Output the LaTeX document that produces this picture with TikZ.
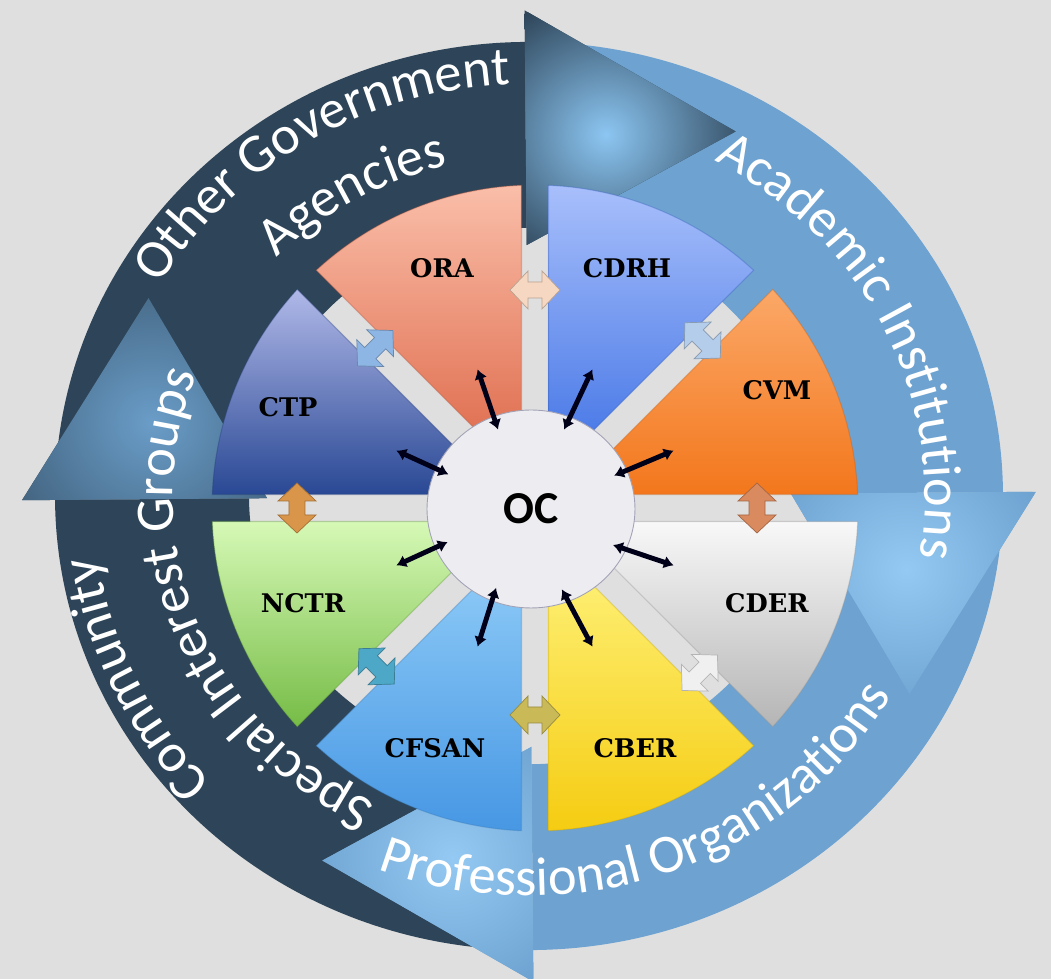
\documentclass[tikz,border=0pt]{standalone}
\usepackage{fontspec}
\setmainfont{Carlito}
\newfontfamily\unitfamily{DejaVu Serif}
\usetikzlibrary{arrows.meta,decorations.text,shapes.geometric}

\definecolor{pagegray}{HTML}{DFDFDF}
\definecolor{ringdark}{HTML}{2E4559}
\definecolor{ringlight}{HTML}{6EA3D1}
\definecolor{glowdark}{HTML}{8CC6F2}
\definecolor{glowsoft}{HTML}{6A9DC8}
\definecolor{glowlight}{HTML}{93C9F2}
\definecolor{ocfill}{HTML}{EDEDF1}
\definecolor{ocline}{HTML}{A2A2B6}
%% unit colours (top / bottom of the gradient)
\definecolor{cvmTop}{HTML}{FBA868}
\definecolor{cvmBot}{HTML}{F3771C}
\definecolor{cdrhTop}{HTML}{A8BFFB}
\definecolor{cdrhBot}{HTML}{3D70E4}
\definecolor{oraTop}{HTML}{FABEA9}
\definecolor{oraBot}{HTML}{DC6444}
\definecolor{ctpTop}{HTML}{B0B8E8}
\definecolor{ctpBot}{HTML}{294894}
\definecolor{nctrTop}{HTML}{D6F9B6}
\definecolor{nctrBot}{HTML}{76BC46}
\definecolor{cfsanTop}{HTML}{95D0F9}
\definecolor{cfsanBot}{HTML}{4797E4}
\definecolor{cberTop}{HTML}{FFF480}
\definecolor{cberBot}{HTML}{F5CC12}
\definecolor{cderTop}{HTML}{F8F8F8}
\definecolor{cderBot}{HTML}{B5B5B5}
%% small arrows between units
\definecolor{gapPeach}{HTML}{F6D8C2}
\definecolor{gapSky}{HTML}{B4CDEB}
\definecolor{gapRust}{HTML}{D98A5E}
\definecolor{gapWhite}{HTML}{F0F0F0}
\definecolor{gapOlive}{HTML}{C9B957}
\definecolor{gapTeal}{HTML}{4DA7C6}
\definecolor{gapTan}{HTML}{D9964B}
\definecolor{gapBlue}{HTML}{8DB6E5}

\newcommand{\ringfont}{\fontsize{31}{37}\selectfont}
\newcommand{\unitfont}{\unitfamily\bfseries\fontsize{14.6}{17}\selectfont}
\newcommand{\ocfont}{\bfseries\fontsize{26}{30}\selectfont}

\tikzset{
  unitlabel/.style={font=\unitfont, inner sep=0pt},
  ringlabel/.style={decorate, decoration={text along path, text align=center,
      text={|\ringfont\color{white}|#1}}},
  link/.style={line width=2.8pt, black!90!blue,
      {Latex[length=5.5pt,width=7.5pt]}-{Latex[length=5.5pt,width=7.5pt]}},
  gaparrow/.style={fill=#1, draw=#1!75!black, line width=0.4pt},
}

\begin{document}
\begin{tikzpicture}[x=0.02cm, y=0.02cm]

  \useasboundingbox (-535,-471) rectangle (516,508);
  \fill[pagegray] (-535,-471) rectangle (516,508);

  %% four curved arrows of the outer ring
  \begin{scope}[shift={(-6,12)}, yscale=0.958]
    \foreach \tl/\bk/\col in {265.5/180.5/ringdark, 175.5/90.5/ringdark,
                              85.5/0.5/ringlight, -4.5/-89.5/ringlight}
      \fill[\col] (\tl:474) arc[start angle=\tl, end angle=\bk, radius=474]
        -- (\bk:280) arc[start angle=\bk, end angle=\tl, radius=280] -- cycle;

    \foreach \bk/\col/\glow/\gr in {180.5/ringdark/glowsoft/240, 90.5/ringdark/glowdark/150,
                                    0.5/ringlight/glowlight/150, -89.5/ringlight/glowlight/150}
    {
      \fill[\col] (\bk:507) -- ({\bk-29}:433) -- (\bk:262) -- cycle;
      \begin{scope}
        \clip (\bk:507) -- ({\bk-29}:433) -- (\bk:262) -- cycle;
        \shade[inner color=\glow, outer color=\col] ({\bk-12}:385) circle[radius=\gr];
      \end{scope}
    }
  \end{scope}

  %% ring texts
  \begin{scope}[shift={(-6,12)}]
    \path[ringlabel=Other Government] (191.5:430 and 412)
      arc[start angle=191.5, end angle=51.5, x radius=430, y radius=412];
    \path[ringlabel=Agencies] (180:354 and 339)
      arc[start angle=180, end angle=60, x radius=354, y radius=339];
    \path[ringlabel=Academic Institutions] (95.9:396 and 379)
      arc[start angle=95.9, end angle=-44.1, x radius=396, y radius=379];
    \path[ringlabel=Professional Organizations] (224.8:418 and 400)
      arc[start angle=224.8, end angle=354.8, x radius=418, y radius=400];
    \path[ringlabel=Community] (275:436 and 418)
      arc[start angle=275, end angle=135, x radius=436, y radius=418];
    \path[ringlabel=Special Interest Groups] (271.4:356 and 341)
      arc[start angle=271.4, end angle=131.4, x radius=356, y radius=341];
  \end{scope}

  %% eight centre units
  \foreach \a/\nm/\ct/\cb/\lx/\ly in {0/CVM/cvmTop/cvmBot/242/118, 45/CDRH/cdrhTop/cdrhBot/92/240,
                                      90/ORA/oraTop/oraBot/-93/240, 135/CTP/ctpTop/ctpBot/-247/101,
                                      180/NCTR/nctrTop/nctrBot/-232/-95, 225/CFSAN/cfsanTop/cfsanBot/-100/-240,
                                      270/CBER/cberTop/cberBot/100/-240, 315/CDER/cderTop/cderBot/232/-95}
  {
    \shade[top color=\ct, bottom color=\cb, draw=\cb!80!black, draw opacity=0.35, line width=0.6pt]
      ({\a+22.5}:35.3) -- ({\a+2.4}:323)
      arc[start angle={\a+2.4}, end angle={\a+42.6}, radius=323] -- cycle;
    \node[unitlabel] (\nm) at (\lx,\ly) {\nm};
  }

  %% small two-way arrows between neighbouring units
  \foreach \g/\r/\c in {90/218/gapPeach, 45/237/gapSky, 0/222/gapRust, -45/233/gapWhite,
                        -90/207/gapOlive, -135/224/gapTeal, 180/238/gapTan, 135/226/gapBlue}
  {
    \coordinate (gap\g) at (\g:\r);
    \path[gaparrow=\c, shift={(gap\g)}, rotate=\g-90]
      (-25,0) -- (-7,19) -- (-7,8) -- (7,8) -- (7,19) -- (25,0)
      -- (7,-19) -- (7,-8) -- (-7,-8) -- (-7,-19) -- cycle;
  }

  %% centre
  \node[ellipse, minimum width=4.16cm, minimum height=3.96cm, fill=ocfill, draw=ocline,
        line width=0.5pt, font=\ocfont] (OC) at (-4,-1) {OC};

  \foreach \m/\nm in {22.5/CVM, 67.5/CDRH, 112.5/ORA, 157.5/CTP,
                      202.5/NCTR, 247.5/CFSAN, 292.5/CBER, 337.5/CDER}
  {
    \coordinate (\nm-end) at (\m:150);
    \draw[link, shorten <=-0.28cm] (OC.\m) -- (\nm-end);
  }

\end{tikzpicture}
\end{document}
